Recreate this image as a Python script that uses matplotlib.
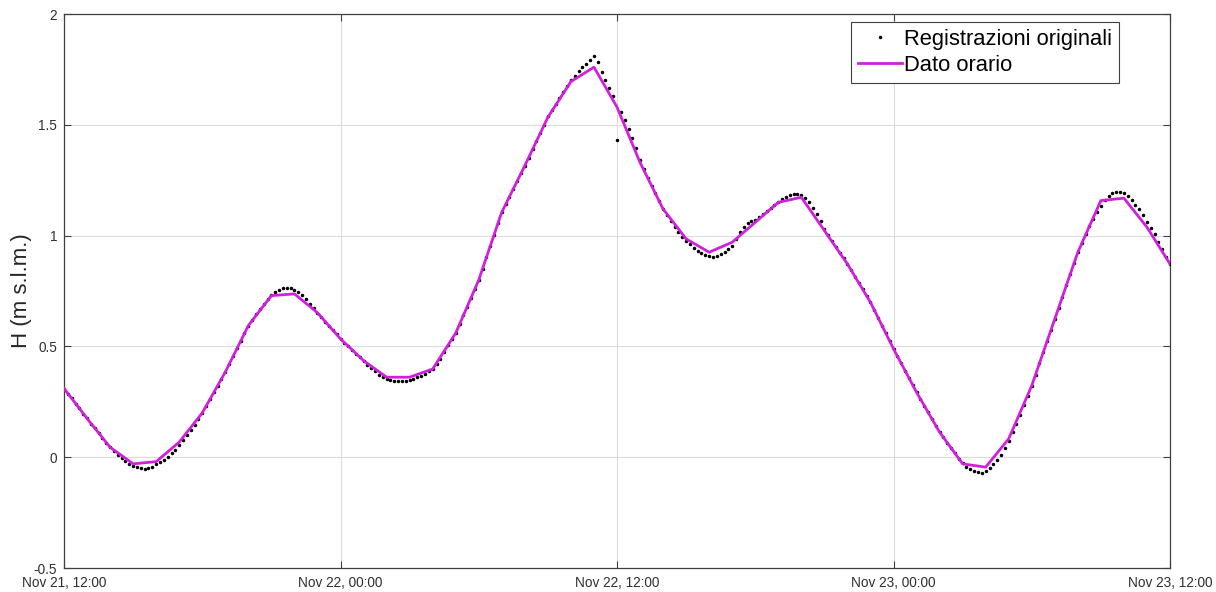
import numpy as np
import pandas as pd
import matplotlib
matplotlib.use("Agg")
import matplotlib.pyplot as plt
import matplotlib.dates as mdates

# ---------------- data ----------------
start_time = "2019-11-21 12:00"
raw_step_minutes = 10
hourly_step_minutes = 60

# original registrations (m s.l.m.), every 10 minutes (rows = hours)
raw_values = [
    0.310, 0.287, 0.265, 0.242, 0.220, 0.197,   # h0
    0.175, 0.152, 0.130, 0.108, 0.087, 0.065,   # h1
    0.045, 0.028, 0.012, -0.004, -0.018, -0.030,
    -0.040, -0.046, -0.050, -0.052, -0.050, -0.046,
    -0.030, -0.022, -0.011, 0.002, 0.017, 0.034,
    0.055, 0.076, 0.098, 0.121, 0.146, 0.172,   # h5
    0.200, 0.230, 0.261, 0.292, 0.323, 0.354,
    0.386, 0.421, 0.456, 0.491, 0.526, 0.561,
    0.594, 0.621, 0.646, 0.670, 0.692, 0.712,
    0.730, 0.745, 0.755, 0.762, 0.765, 0.763,
    0.756, 0.745, 0.730, 0.712, 0.693, 0.673,   # h10
    0.652, 0.632, 0.612, 0.593, 0.573, 0.554,
    0.534, 0.517, 0.500, 0.484, 0.467, 0.451,
    0.434, 0.418, 0.402, 0.387, 0.373, 0.361,
    0.352, 0.347, 0.344, 0.343, 0.344, 0.346,
    0.350, 0.354, 0.360, 0.368, 0.377, 0.388,   # h15
    0.400, 0.420, 0.445, 0.475, 0.507, 0.533,
    0.560, 0.600, 0.640, 0.680, 0.720, 0.760,
    0.800, 0.851, 0.902, 0.953, 1.004, 1.055,
    1.106, 1.141, 1.176, 1.211, 1.246, 1.281,
    1.316, 1.352, 1.389, 1.425, 1.461, 1.498,   # h20
    1.540, 1.567, 1.594, 1.621, 1.648, 1.675,
    1.700, 1.722, 1.745, 1.762, 1.776, 1.794,
    1.812, 1.785, 1.740, 1.700, 1.665, 1.630,
    1.430, 1.560, 1.520, 1.480, 1.440, 1.395,
    1.340, 1.300, 1.262, 1.225, 1.190, 1.155,   # h25
    1.120, 1.095, 1.065, 1.040, 1.015, 0.995,
    0.975, 0.960, 0.945, 0.932, 0.922, 0.912,
    0.908, 0.905, 0.910, 0.915, 0.928, 0.940,
    0.955, 0.985, 1.015, 1.040, 1.055, 1.065,
    1.072, 1.085, 1.098, 1.112, 1.125, 1.140,   # h30
    1.152, 1.165, 1.175, 1.183, 1.188, 1.188,
    1.182, 1.170, 1.150, 1.125, 1.098, 1.065,
    1.030, 1.002, 0.975, 0.948, 0.922, 0.897,
    0.872, 0.845, 0.815, 0.787, 0.758, 0.729,
    0.699, 0.664, 0.629, 0.594, 0.559, 0.524,   # h35
    0.489, 0.456, 0.424, 0.391, 0.358, 0.326,
    0.293, 0.263, 0.233, 0.203, 0.173, 0.143,
    0.113, 0.089, 0.065, 0.042, 0.018, -0.006,
    -0.026, -0.043, -0.055, -0.064, -0.068, -0.070,
    -0.062, -0.048, -0.030, -0.012, 0.010, 0.040,   # h40
    0.075, 0.113, 0.152, 0.192, 0.234, 0.278,
    0.323, 0.373, 0.423, 0.473, 0.524, 0.574,
    0.624, 0.674, 0.724, 0.775, 0.825, 0.875,
    0.925, 0.966, 1.005, 1.042, 1.075, 1.105,
    1.135, 1.160, 1.178, 1.190, 1.197, 1.198,   # h45
    1.190, 1.178, 1.160, 1.140, 1.118, 1.093,
    1.062, 1.035, 1.005, 0.972, 0.938, 0.905,
    0.872,                                      # h48
]

# hourly values (m s.l.m.)
hourly_values = [
    0.310, 0.175, 0.045, -0.030, -0.020, 0.068, 0.200, 0.384, 0.594, 0.729,
    0.737, 0.652, 0.534, 0.436, 0.361, 0.361, 0.398, 0.560, 0.800, 1.106,
    1.316, 1.534, 1.695, 1.760, 1.580, 1.330, 1.120, 0.985, 0.925, 0.970,
    1.060, 1.150, 1.173, 1.023, 0.872, 0.699, 0.489, 0.293, 0.113, -0.030,
    -0.045, 0.083, 0.323, 0.624, 0.925, 1.158, 1.169, 1.038, 0.872,
]

y_ticks = [-0.5, 0, 0.5, 1, 1.5, 2]
y_tick_labels = ["-0.5", "0", "0.5", "1", "1.5", "2"]
x_tick_times = ["2019-11-21 12:00", "2019-11-22 00:00", "2019-11-22 12:00",
                "2019-11-23 00:00", "2019-11-23 12:00"]
legend_labels = ["Registrazioni originali", "Dato orario"]
y_label = "H (m s.l.m.)"

# ---------------- build time axes ----------------
raw_times = pd.date_range(start_time, periods=len(raw_values), freq=f"{raw_step_minutes}min")
hourly_times = pd.date_range(start_time, periods=len(hourly_values), freq=f"{hourly_step_minutes}min")
xticks = pd.to_datetime(x_tick_times)

# ---------------- plot ----------------
plt.rcParams['font.family'] = ['Liberation Sans', 'DejaVu Sans']
fig = plt.figure(figsize=(12.16, 5.92), dpi=100)
ax = fig.add_axes([64 / 1216, 24 / 592, (1170 - 64) / 1216, (568 - 14) / 592])

axis_color = "#404040"
ax.plot(raw_times, raw_values, linestyle="none", marker=".", color="black",
        markersize=3.0, label=legend_labels[0], zorder=3)
ax.plot(hourly_times, hourly_values, color="#d020dc", linewidth=2.0,
        label=legend_labels[1], zorder=4)

ax.set_xlim(xticks[0], xticks[-1])
ax.set_ylim(y_ticks[0], y_ticks[-1])
ax.set_xticks(xticks)
ax.xaxis.set_major_formatter(mdates.DateFormatter("%b %d, %H:%M"))
ax.set_yticks(y_ticks)
ax.set_yticklabels(y_tick_labels)

ax.grid(True, color="#dcdcdc", linewidth=0.8)
ax.set_axisbelow(True)
for s in ax.spines.values():
    s.set_color(axis_color)
    s.set_linewidth(0.9)

ax.tick_params(axis="both", direction="in", length=5, width=0.8,
               colors=axis_color, labelcolor="#303030", labelsize=9.8,
               top=True, right=True)
ax.tick_params(axis="x", pad=6)
ax.tick_params(axis="y", pad=5)

ax.set_ylabel(y_label, fontsize=16, color="#262626", labelpad=1)

leg = ax.legend(loc="upper right",
                bbox_to_anchor=((1119 - 64) / 1106, 1 - (22 - 14) / 554),
                fontsize=15.8, frameon=True, fancybox=False, borderpad=0.3,
                handlelength=2.0, handletextpad=0.12, labelspacing=0.25,
                markerscale=1.0, borderaxespad=0)
leg.get_frame().set_edgecolor(axis_color)
leg.get_frame().set_linewidth(0.8)
leg.get_frame().set_alpha(1)

fig.savefig("out.png", dpi=100)
